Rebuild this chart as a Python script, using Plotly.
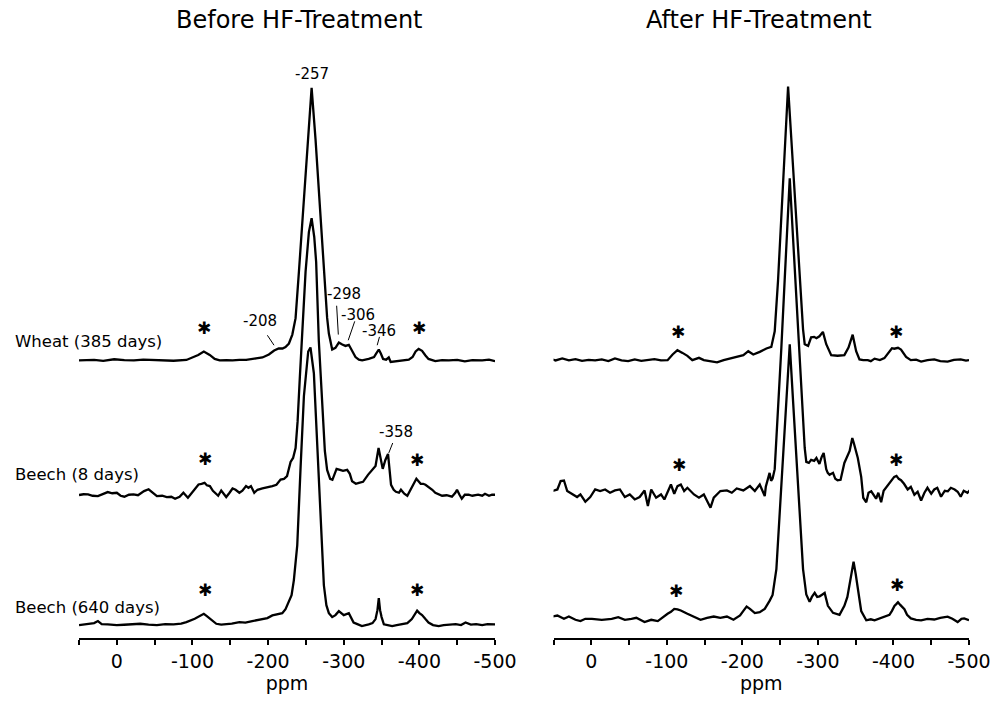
import plotly.graph_objects as go

# ---------------- data ----------------
PANEL_TITLES = ["Before HF-Treatment", "After HF-Treatment"]
SAMPLES = ["Wheat (385 days)", "Beech (8 days)", "Beech (640 days)"]
TICK_VALUES = [0, -100, -200, -300, -400, -500]
TICK_LABELS = ["0", "-100", "-200", "-300", "-400", "-500"]

# spectra: (ppm, intensity above own baseline)
before_wheat = [
    (50, 0), (40, 0.6), (30, 0.5), (18, -0.4), (3.5, 1.2), (-10, 0.3), (-22.6, 0), (-35, 0.8),
    (-48.8, 0.5), (-62, -0.2), (-75, -0.3), (-92, 0.5), (-101, 3), (-107.6, 5.5), (-115, 9),
    (-122.8, 5.5), (-129.4, 1.5), (-136, 0), (-145, 0.4), (-153, 0), (-162, 0.6), (-171, 0.5),
    (-184, 2), (-192.5, 3), (-201, 6), (-208, 10), (-214, 12), (-219, 12), (-223, 13.5),
    (-227.5, 17), (-232, 26), (-236.3, 42.5), (-240.7, 89), (-245, 135), (-249.5, 181),
    (-253.9, 228), (-257.5, 274), (-262.7, 222), (-267, 171), (-271.5, 120), (-275.9, 68),
    (-278, 43), (-280.3, 27), (-284.7, 11), (-289, 12.7), (-293.5, 18), (-298, 16),
    (-302.3, 14.6), (-306.7, 15.7), (-311, 9), (-315.5, 3.4), (-320, 0.7), (-324.3, 0),
    (-333, 1.5), (-340, 3.4), (-343, 7), (-346.3, 11), (-349, 7), (-352, 1.5), (-356, 0.7),
    (-359.5, 3), (-362, -1.5), (-368, -1), (-377, 0), (-386, 0.7), (-391, 3.4), (-395, 9),
    (-399, 11.6), (-403.5, 9.7), (-408, 5), (-412, 1.5), (-421, -0.7), (-430, 0.4),
    (-439, 0), (-450, 0.6), (-460, -1), (-470, 0.3), (-483, 0), (-492, 0.8), (-500, -0.7),
]
before_beech8 = [
    (50, 0.7), (44, 1.5), (38, 1.3), (32, 0), (25, -0.3), (18, 2), (12, 3.7), (6, 2.5), (0, 3),
    (-5, 0), (-10, -1), (-16, 1), (-22, 1.3), (-28, 0.5), (-36, 4.7), (-42, 6.5), (-47, 3),
    (-53, -0.3), (-60, 0), (-66, -1.3), (-72, -1), (-77, -3), (-83, -1), (-88, 3), (-94, -2),
    (-100, 4), (-104, 8), (-108, 11.3), (-112, 12), (-116, 13), (-119, 10.5), (-123, 9.7),
    (-127, 5), (-131.5, 1.3), (-134, 0), (-138, 5.3), (-141, 2), (-144.6, -1.3), (-149, 3),
    (-153, 7.3), (-157, 6), (-162, 3), (-166, 5), (-170.8, 9.7), (-174, 8), (-177.3, 9.7),
    (-181.7, 3), (-186, 6), (-192.5, 7.3), (-198, 8), (-205.6, 9.7), (-211, 11), (-216.5, 16.3),
    (-221, 17), (-225, 19.7), (-229.7, 34), (-233, 38), (-236.3, 48), (-239, 75), (-242, 120),
    (-245, 165), (-249.5, 225), (-253.9, 265), (-257.5, 279), (-261, 260), (-263.5, 235),
    (-267, 156), (-271.5, 85), (-275, 45), (-278, 26), (-282, 17), (-285, 16), (-290.5, 27),
    (-295, 26), (-299, 25), (-304.5, 26), (-308, 22), (-311, 14.5), (-316, 12), (-320, 13),
    (-325.5, 14), (-332, 21), (-338.6, 27), (-342, 30), (-346, 48), (-349, 35), (-351.5, 27),
    (-355, 36), (-358.5, 42), (-362.5, 11), (-366, 6), (-369, 4), (-373, 3), (-375.6, 6),
    (-380, 2), (-384, 0), (-388.6, 7), (-392, 12), (-396, 17), (-401.7, 12), (-405, 12),
    (-408, 11), (-412, 9), (-417, 6), (-421, 3), (-425, 2), (-430, 0), (-436, 0.5), (-443, -1),
    (-447.5, 3), (-449.7, 6), (-453, 1), (-456, -3), (-460, 1), (-465, 1), (-470, 0),
    (-477.6, 1), (-483, 0), (-486.7, 2), (-492, 0), (-496, 1), (-500, 1),
]
before_beech640 = [
    (50, 0), (44, 0.5), (38, 1.3), (30, 2), (25, 4), (20, 1), (12, 0.7), (0, 0), (-9.5, 0.3),
    (-20, 1), (-31, 1.3), (-42, 0.5), (-53, 0), (-64, 1), (-75, 0.7), (-85, 1.5), (-92, 3),
    (-103, 6.3), (-110, 9), (-115, 11.3), (-119, 9), (-123, 6.3), (-131.5, 1.3), (-138, 0.5),
    (-144.6, 0.7), (-152, 1.5), (-162, 3), (-170, 2.5), (-179, 4), (-186, 5), (-192.5, 6.3),
    (-199, 7), (-205.6, 9.7), (-214, 11.3), (-218.7, 12), (-223, 16), (-227.5, 23), (-231, 30),
    (-234, 45), (-238.5, 80), (-243, 160), (-247.3, 230), (-253, 275), (-256, 279),
    (-260.5, 253), (-265, 178), (-269.3, 103), (-273.7, 40), (-277, 20), (-280.3, 12),
    (-284.7, 8), (-289, 10), (-293.5, 14), (-300, 10), (-306.7, 12), (-313, 2.6), (-318, 1),
    (-324, -1), (-333, 0.7), (-338, 2), (-342, 6), (-344.5, 15), (-346.3, 27), (-348, 15),
    (-350, 8), (-353, 0.7), (-358, 0), (-364, -1), (-370, 0), (-377, 0.7), (-384, 2), (-390, 6),
    (-394, 11), (-397, 14.5), (-400, 12), (-403.5, 10), (-408, 6), (-412, 2.6), (-418, 0),
    (-425.5, -1), (-432, 0), (-439, 0.7), (-448, 1), (-455, 0), (-461, 2.6), (-468, 0.5),
    (-475, 1), (-483, 0), (-490, 1), (-500, 0.7),
]
after_wheat = [
    (51.5, 0.7), (47.3, -0.3), (38.4, 1.7), (29.7, -0.3), (21, 1), (12.3, -0.7), (3.5, 0.3),
    (-5.1, -0.3), (-13.9, 0.7), (-22.6, -1), (-31.3, 1.7), (-40, -0.3), (-48.8, -1), (-57.5, 0.7),
    (-66.1, -0.7), (-74.9, 0.3), (-83.6, 1), (-92.3, -0.3), (-101, 0), (-107.6, 5.7), (-114, 10),
    (-120.7, 7.3), (-127.2, 4.3), (-133.7, 0), (-142.5, 2.3), (-149, 0), (-157.8, -1),
    (-166.5, -2.3), (-175.2, 0), (-183.9, 1.7), (-192.5, 3.3), (-201.3, 5), (-207.8, 9),
    (-214.4, 5.7), (-223, 8.3), (-231.8, 11.7), (-238.3, 13.3), (-242.8, 29), (-247.2, 80),
    (-251.6, 145), (-256, 210), (-260.5, 275), (-264.9, 221), (-269.3, 167), (-273.6, 112.6),
    (-278, 58.5), (-280.3, 31), (-282.5, 16), (-287, 14.4), (-291, 23), (-295, 23.4), (-298, 22),
    (-302, 24), (-306.6, 28.4), (-311, 16), (-317.6, 5), (-326, 4.4), (-335, 5), (-340.5, 12.6),
    (-346, 25.6), (-350.6, 9), (-355, 0.7), (-360, 0), (-366, 0), (-370, -1), (-375, 1.5),
    (-382, 0), (-388, 2), (-394.7, 9), (-398, 12), (-401, 11.5), (-406, 12.4), (-410, 10.7),
    (-416.7, 3.3), (-423, 0), (-430, 0.5), (-436.6, -1.5), (-445, 0), (-454, 0.7), (-462, -1),
    (-471.7, -1.5), (-480, 0.3), (-489, 0.7), (-496, -0.5), (-500, 0),
]
after_beech8 = [
    (51.5, 1.7), (44.9, 3.3), (40.6, 11.7), (36.2, 12.3), (31.9, 1.7), (25.4, -1.7), (18.8, -4.3),
    (14.4, -1.7), (7.9, -9), (1.4, -4.3), (-5.1, 3.3), (-11.7, 1.7), (-18.3, 3.3), (-24.8, 0),
    (-31.3, 2.3), (-37.9, 3.3), (-44.4, -4.3), (-50.9, -1.7), (-57.5, -6.7), (-64, -4.3),
    (-70.5, 2.3), (-74.9, -13.3), (-79.3, 3.3), (-85.8, -5), (-92.3, -1.7), (-96.7, -6.7),
    (-101, 1.7), (-105.4, 8.3), (-109.8, -1), (-114.1, 6.7), (-118.5, 8.3), (-122.9, 1.7),
    (-127.2, 5), (-135.9, -1.7), (-142.5, -5), (-149, -1.7), (-157.8, -15), (-162.1, -5),
    (-170.8, 1.7), (-179.5, 2.3), (-186, 0), (-192.5, 4.3), (-201.3, 2.3), (-210, 6.7),
    (-216.5, 1.7), (-223, 8.3), (-226, 3), (-229.6, -3.3), (-231, 6), (-233.9, 15), (-236, 20),
    (-238, 12), (-240, 14.4), (-242.8, 23.7), (-245, 53), (-247.2, 78), (-251.6, 146),
    (-256, 214), (-260.5, 282), (-262.7, 316), (-264.9, 286), (-269.3, 226), (-273.6, 165),
    (-278, 105), (-282.5, 45), (-284.6, 31), (-288, 30), (-291, 33), (-295, 32), (-298, 35),
    (-302, 29), (-305, 36), (-307.6, 40), (-311, 23.7), (-313, 20), (-315.4, 18), (-320, 20),
    (-323, 14), (-326, 12.6), (-330, 13), (-335, 30), (-342, 42), (-345.5, 55), (-347.5, 50),
    (-352.8, 35), (-357.3, 16), (-360, -5), (-364, -9.6), (-367, 0), (-370.6, 1.5), (-374, -3),
    (-377, -6), (-380, 0), (-383.7, -9.6), (-387, 2), (-390, 5), (-394, 10), (-397, 12.6),
    (-401, 16), (-404, 17), (-407, 14), (-410, 12.6), (-414, 9), (-418.8, 3.3), (-423, 6),
    (-427.7, -2), (-432, 1), (-436.6, -7.8), (-441, 0), (-445, 5), (-450, -1), (-454, 3.3),
    (-458, 5), (-463, -4), (-468, 2), (-472, 1.5), (-476, 5), (-481, 3.3), (-485, 1), (-489, -4),
    (-493, 2), (-498, 0), (-502, 3.3),
]
after_beech640 = [
    (51.5, 2.3), (44.9, 3.3), (36.2, 0), (29.7, 2.3), (21, -1), (14.4, -2.3), (7.9, 0), (-0.8, 0),
    (-13.9, -1), (-27, 0), (-35.7, 1.7), (-44.4, -1), (-53.1, 0), (-59.6, 1), (-70.5, -3.3),
    (-79.3, -1), (-88, -2.3), (-94.5, 1.7), (-101, 5), (-105.4, 7), (-109.8, 10), (-114.1, 9.5),
    (-118.5, 8.3), (-127.2, 5), (-135.9, 1.7), (-144.6, -1), (-153.3, 1), (-162.1, 2.3),
    (-170.8, 1), (-179.5, 2.3), (-188.2, -1), (-196.9, 3.3), (-201.3, 8), (-205.6, 12.3),
    (-210, 10), (-216.5, 5.7), (-223, 6.7), (-229.6, 10), (-236, 18), (-240, 24), (-245, 50),
    (-249.4, 107), (-253.8, 163), (-258.2, 220), (-262.7, 276), (-267, 220), (-271.5, 163),
    (-276, 107), (-280.3, 50), (-284.6, 24.4), (-289, 17), (-292, 22), (-295.7, 26), (-299, 22),
    (-302.2, 22.6), (-305, 24), (-308.9, 26), (-313.2, 13), (-320, 6), (-328.6, 4), (-335, 13),
    (-339, 22), (-342, 35.5), (-345, 48), (-347.2, 57.5), (-350, 45), (-352.8, 30), (-357.3, 7.8),
    (-364, -1.5), (-370, -0.5), (-375, -1.5), (-381, 0), (-388, 2.2), (-394.7, 4), (-398, 8),
    (-401.3, 13), (-404, 15), (-406, 16.7), (-409, 14), (-414.5, 9.6), (-418, 4), (-423, 0.4),
    (-430, -1), (-436.6, -1.5), (-445, 0), (-454, -0.7), (-462, 1), (-471.7, 2.2), (-478, 0),
    (-485, -3.3), (-490, 0), (-493.6, 0.4), (-500, -1.5),
]

SPECTRA_BEFORE = [before_wheat, before_beech8, before_beech640]
SPECTRA_AFTER = [after_wheat, after_beech8, after_beech640]
# vertical stacking offsets of each spectrum
OFFSETS_BEFORE = [279, 143, 13]
OFFSETS_AFTER = [279.3, 146, 19.3]
SAMPLE_LABEL_Y = [298.5, 164, 31]

# peak labels (before panel)
PEAK_TEXT = ["-257", "-208", "-298", "-306", "-346", "-358"]
PEAK_TEXT_PPM = [-258, -189.3, -300.3, -319, -347.2, -369]
PEAK_TEXT_Y = [567, 318.5, 346, 325, 308.5, 207]
LEADERS = [None, (-199, 304.3, -207.8, 294.3), (-290.6, 334, -292.8, 305),
           (-314.5, 318.3, -305.9, 299.3), (-347.2, 302.7, -344.2, 294.3),
           (-364.7, 196, -359.5, 186)]

# spinning side bands (*)
SB_BEFORE_PPM = [(-115, -399), (-116.3, -397.4), (-116.3, -397.4)]
SB_BEFORE_Y = [(312, 312), (180.3, 179.3), (48.3, 48.3)]
SB_AFTER_PPM = [(-115, -403), (-116.3, -404), (-112, -404.7)]
SB_AFTER_Y = [(307.7, 307.7), (174.3, 178.7), (47.7, 53.7)]

# ---------------- figure ----------------
FONT = "DejaVu Sans"
fig = go.Figure()

for spectra, offsets, xa in [(SPECTRA_BEFORE, OFFSETS_BEFORE, "x"), (SPECTRA_AFTER, OFFSETS_AFTER, "x2")]:
    ya = "y" if xa == "x" else "y2"
    for spec, off, name in zip(spectra, offsets, SAMPLES):
        fig.add_trace(go.Scatter(
            x=[p for p, _ in spec], y=[off + v for _, v in spec],
            mode="lines", line=dict(color="black", width=2.3),
            xaxis=xa, yaxis=ya, name=name, showlegend=False, hoverinfo="skip"))

axis_common = dict(
    range=[50, -500], showgrid=False, zeroline=False, showline=True,
    linecolor="black", linewidth=2, ticks="outside", ticklen=5, tickwidth=2,
    tickcolor="black", tickvals=TICK_VALUES, ticktext=TICK_LABELS,
    tickfont=dict(family=FONT, size=19, color="black"),
    minor=dict(ticks="outside", ticklen=5, tickwidth=2, tickcolor="black", dtick=50,
               tick0=0, showgrid=False),
    title=dict(text="ppm", font=dict(family=FONT, size=19, color="black"), standoff=6),
)
yaxis_common = dict(range=[0, 581], visible=False, fixedrange=True)

W, H = 1003, 703
L, R, T, B = 79, 23, 60, 62
pw = W - L - R
fig.update_layout(
    width=W, height=H, margin=dict(l=L, r=R, t=T, b=B),
    paper_bgcolor="white", plot_bgcolor="white",
    xaxis=dict(domain=[0, 421.2 / pw], anchor="y", **axis_common),
    xaxis2=dict(domain=[480.4 / pw, 1], anchor="y2", **axis_common),
    yaxis=dict(domain=[0, 1], anchor="x", **yaxis_common),
    yaxis2=dict(domain=[0, 1], anchor="x2", **yaxis_common),
)

ann = []
# panel titles
for title, xa in [(PANEL_TITLES[0], "x domain"), (PANEL_TITLES[1], "x2 domain")]:
    ann.append(dict(text=title, xref=xa, yref="paper", x=0.53 if xa == "x domain" else 0.495,
                    y=1 + 40 / 581, xanchor="center", yanchor="middle", showarrow=False,
                    font=dict(family=FONT, size=24, color="black")))
# sample labels
for s, yv in zip(SAMPLES, SAMPLE_LABEL_Y):
    ann.append(dict(text=s, xref="paper", yref="y", x=-67 / pw, y=yv, xanchor="left",
                    yanchor="middle", showarrow=False,
                    font=dict(family=FONT, size=16.5, color="black")))
# peak labels
for t, px, py in zip(PEAK_TEXT, PEAK_TEXT_PPM, PEAK_TEXT_Y):
    ann.append(dict(text=t, xref="x", yref="y", x=px, y=py, xanchor="center", yanchor="middle",
                    showarrow=False, font=dict(family=FONT, size=15, color="black")))
# side band asterisks
for ppms, ys, xr, yr in [(SB_BEFORE_PPM, SB_BEFORE_Y, "x", "y"), (SB_AFTER_PPM, SB_AFTER_Y, "x2", "y2")]:
    for pp, yy in zip(ppms, ys):
        for p, yv in zip(pp, yy):
            ann.append(dict(text="\u2731", xref=xr, yref=yr, x=p, y=yv, xanchor="center",
                            yanchor="middle", showarrow=False,
                            font=dict(family=FONT, size=17, color="black")))
fig.update_layout(annotations=ann)

shapes = []
for ld in LEADERS:
    if ld is None:
        continue
    x0, y0, x1, y1 = ld
    shapes.append(dict(type="line", xref="x", yref="y", x0=x0, y0=y0, x1=x1, y1=y1,
                       line=dict(color="black", width=1)))
fig.update_layout(shapes=shapes)

# remove the default page margin so the figure sits at the window's top-left corner
fig.write_html("out.html", config={"displayModeBar": False},
               post_script="document.body.style.margin='0';")
